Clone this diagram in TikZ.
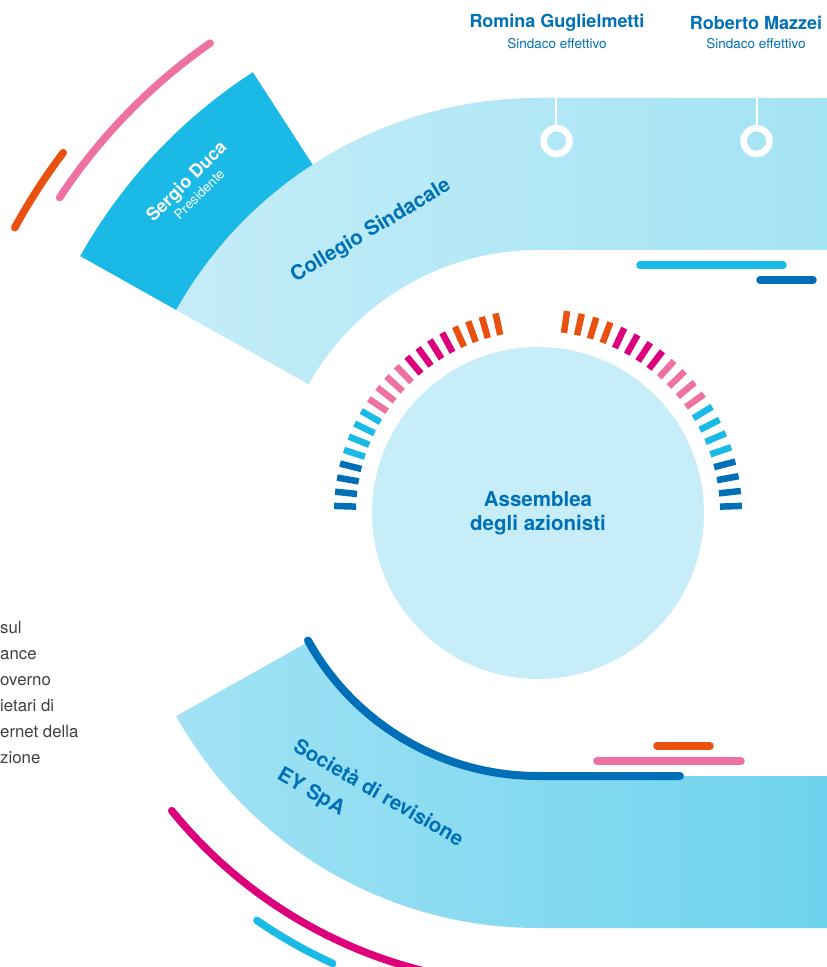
\documentclass[tikz,border=0pt]{standalone}
\usepackage{fontspec}
\setmainfont{TeX Gyre Heros}
\usetikzlibrary{calc}
\definecolor{ink}{HTML}{0070B7}
\definecolor{bandL}{HTML}{C4ECF8}
\definecolor{bandR}{HTML}{A4E3F4}
\definecolor{botL}{HTML}{A2E2F4}
\definecolor{botR}{HTML}{6ED3EE}
\definecolor{disc}{HTML}{C6EDF8}
\definecolor{blk}{HTML}{1BB9E5}
\definecolor{tickdark}{HTML}{006FB7}
\definecolor{tickcyan}{HTML}{1ABAE6}
\definecolor{tickpink}{HTML}{EE72A1}
\definecolor{tickmag}{HTML}{DC007C}
\definecolor{tickorange}{HTML}{E8510F}

\begin{document}
\begin{tikzpicture}[x=1pt,y=1pt,
  person/.style={font=\fontsize{18}{20}\selectfont\bfseries,text=ink},
  rolefont/.style={font=\fontsize{13.5}{15}\selectfont,text=ink},
  unit/.style={font=\fontsize{20.5}{26}\selectfont\bfseries,text=ink},
  ring/.style={circle,draw=white,line width=6.5pt,minimum size=26pt,inner sep=0pt},
  stroke/.style={line width=7.5pt,line cap=round},
  tick/.style={line width=6.5pt}]
              \useasboundingbox (-538,-454) rectangle (289,513);
              \clip (-538,-454) rectangle (289,513);
              % bands
              \shade[left color=bandL,right color=bandR] (150.7:263) arc[start angle=150.7,end angle=90,radius=263] -- (289,263) -- (289,415) -- (0,415) arc[start angle=90,end angle=150.7,radius=415] -- cycle;
              \fill[blk] (150.7:415) -- (150.7:525) arc[start angle=150.7,end angle=122.9,radius=525] -- (122.9:415) arc[start angle=122.9,end angle=150.7,radius=415] -- cycle;
              \shade[left color=botL,right color=botR] (209.3:263) arc[start angle=209.3,end angle=270,radius=263] -- (289,-263) -- (289,-415) -- (0,-415) arc[start angle=270,end angle=209.3,radius=415] -- cycle;
              \draw[stroke,line width=8pt,tickdark] (209:263) arc[start angle=209,end angle=270,radius=263] -- (142,-263);
              % short bars
              \draw[stroke,tickcyan] (102,248) -- (245,248);
              \draw[stroke,tickdark] (222,233) -- (275,233);
              \draw[stroke,tickorange] (119,-233) -- (172,-233);
              \draw[stroke,tickpink] (59,-248) -- (203,-248);
              % outer arcs
              \draw[stroke,tickpink] (124.9:573) arc[start angle=124.9,end angle=146.6,radius=573];
              \draw[stroke,tickorange] (142.8:596) arc[start angle=142.8,end angle=151.4,radius=596];
              \draw[stroke,tickmag] (219.1:472) arc[start angle=219.1,end angle=257,radius=472];
              \draw[stroke,tickcyan] (235.4:495) arc[start angle=235.4,end angle=245.5,radius=495];
              % ticks
              \foreach \col [count=\g from 0] in {tickdark,tickcyan,tickpink,tickmag,tickorange}
                \foreach \j in {0,...,3}{
                  \draw[tick,\col] ({178-4*(4*\g+\j)}:182) -- ({178-4*(4*\g+\j)}:204);
                  \draw[tick,\col] ({2+4.2*(4*\g+\j)}:182) -- ({2+4.2*(4*\g+\j)}:204);
                }
              % assembly
              \node[circle,fill=disc,minimum size=332pt,inner sep=0pt,unit,align=center](asm)at(0,0){Assemblea\\[-2pt]degli azionisti};
              % members
              \node[ring](o1)at(18.5,372){};
              \coordinate(t1)at(18.5,415);
              \draw[white,line width=2pt](o1)--(t1);
              \node[ring](o2)at(218.5,372){};
              \coordinate(t2)at(218.5,415);
              \draw[white,line width=2pt](o2)--(t2);
              \node[person](rg)at(19,490){Romina Guglielmetti};
              \node[rolefont](rgr)at(19,469){Sindaco effettivo};
              \node[person](rm)at(218,490){Roberto Mazzei};
              \node[rolefont](rmr)at(218,469){Sindaco effettivo};
              \node[unit,rotate=31](cs)at(-167,282){Collegio Sindacale};
              \node[person,text=white,rotate=45,align=center](sd)at(-346,326){Sergio Duca\\[-3pt]{\fontsize{13.5}{15}\selectfont\mdseries Presidente}};
              \node[unit,rotate=-30,align=left](rev)at(-168,-295){Società di revisione\\[6pt]EY SpA};
              \node[anchor=north west,align=left,inner sep=0pt,font=\fontsize{16.8}{26}\selectfont,text=black!75](note)at(-538,-108){sul\\ance\\overno\\ietari di\\ernet della\\zione};
            \end{tikzpicture}
\end{document}
